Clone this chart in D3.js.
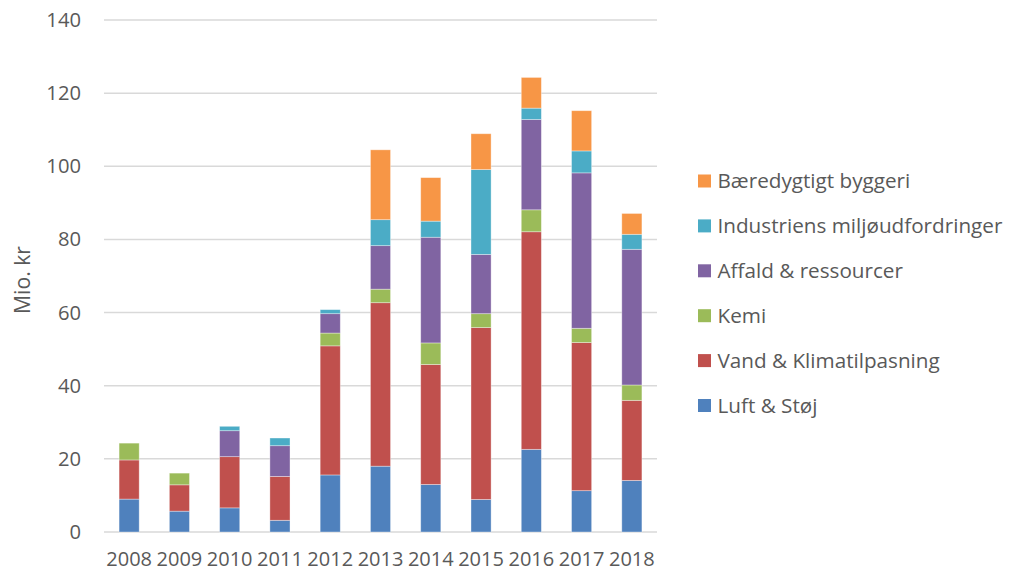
<!DOCTYPE html>
<html>
<head>
<meta charset="utf-8">
<script src="https://cdn.jsdelivr.net/npm/d3@7"></script>
<style>
  html, body { margin: 0; padding: 0; background: #fff; }
  svg { display: block; }
</style>
</head>
<body>
<svg id="chart" width="1009" height="572"></svg>
<script>
const years = ["2008","2009","2010","2011","2012","2013","2014","2015","2016","2017","2018"];
const seriesNames = ["Luft & Støj","Vand & Klimatilpasning","Kemi","Affald & ressourcer","Industriens miljøudfordringer","Bæredygtigt byggeri"];
const luftStoej      = [9.0, 5.7, 6.6, 3.2, 15.6, 18.0, 13.0, 8.9, 22.6, 11.3, 14.1];
const vandKlima      = [10.7, 7.2, 14.0, 12.0, 35.3, 44.7, 32.8, 47.0, 59.5, 40.5, 21.9];
const kemi           = [4.6, 3.2, 0, 0, 3.5, 3.7, 5.9, 3.8, 6.0, 3.9, 4.2];
const affald         = [0, 0, 7.1, 8.4, 5.3, 11.9, 28.9, 16.2, 24.7, 42.5, 37.1];
const industri       = [0, 0, 1.2, 2.1, 1.1, 7.1, 4.4, 23.2, 3.1, 6.0, 4.1];
const byggeri        = [0, 0, 0, 0, 0, 19.1, 11.9, 9.8, 8.4, 11.0, 5.7];
const yTicks = [0, 20, 40, 60, 80, 100, 120, 140];
const colors = ["#4F81BD","#C0504D","#9BBB59","#8064A2","#4BACC6","#F79646"];

const seriesValues = [luftStoej, vandKlima, kemi, affald, industri, byggeri];
const table = years.map((y, i) => {
  const row = { year: y };
  seriesNames.forEach((s, k) => row[s] = seriesValues[k][i]);
  return row;
});

const svg = d3.select("#chart");
const font = "'Open Sans', 'Noto Sans', sans-serif";
const textColor = "#595959";

// size a text element so its rendered width equals target
function fitWidth(sel, target) {
  const node = sel.node();
  const base = 20;
  sel.attr("font-size", base);
  const w = node.getComputedTextLength();
  sel.attr("font-size", base * target / w);
}

const x = d3.scaleBand().domain(years).range([104, 657]).paddingInner(0.6).paddingOuter(0.3);
const y = d3.scaleLinear().domain([0, 140]).range([532, 20]);

// gridlines
svg.append("g").selectAll("line").data(yTicks).join("line")
  .attr("x1", 104).attr("x2", 657)
  .attr("y1", d => y(d)).attr("y2", d => y(d))
  .attr("stroke", "#d9d9d9").attr("stroke-width", 1.5);

// y axis labels
const yAxis = d3.axisLeft(y).tickValues(yTicks).tickSize(0).tickPadding(0);
const gy = svg.append("g").attr("transform", "translate(81,0)").call(yAxis);
gy.select(".domain").remove();
gy.selectAll("text").attr("font-family", font).attr("font-size", 20.2).attr("fill", textColor);

// x axis labels
const xAxis = d3.axisBottom(x).tickSize(0).tickPadding(0);
const gx = svg.append("g").attr("transform", "translate(0,566)").call(xAxis);
gx.select(".domain").remove();
gx.selectAll("text").attr("font-family", font).attr("font-size", 20).attr("fill", textColor)
  .attr("dy", "0").attr("y", 0);

// stacked bars
const stack = d3.stack().keys(seriesNames);
const stacked = stack(table);
svg.append("g").selectAll("g").data(stacked).join("g")
  .attr("fill", (d, i) => colors[i])
  .selectAll("rect").data(d => d.filter(p => p[1] - p[0] > 0)).join("rect")
  .attr("x", d => x(d.data.year))
  .attr("width", x.bandwidth())
  .attr("y", d => y(d[1]))
  .attr("height", d => y(d[0]) - y(d[1]))
  .attr("stroke", "#ffffff").attr("stroke-opacity", 0.45).attr("stroke-width", 0.8);

// y title
const title = svg.append("text")
  .attr("transform", "translate(29.5,280) rotate(-90)")
  .attr("text-anchor", "middle")
  .attr("font-family", font).attr("fill", textColor)
  .text("Mio. kr");
fitWidth(title, 68);

// legend
const legendOrder = [5, 4, 3, 2, 1, 0];
const legend = svg.append("g");
const leg = legend.selectAll("g").data(legendOrder).join("g")
  .attr("transform", (d, i) => `translate(698,${181 + i * 44.9})`);
leg.append("rect").attr("x", 0).attr("y", -6.5).attr("width", 13).attr("height", 13)
  .attr("fill", d => colors[d]);
const legText = leg.append("text").attr("x", 19.5).attr("y", 0).attr("dy", "0.36em")
  .attr("font-family", font).attr("font-size", 20).attr("fill", textColor)
  .text(d => seriesNames[d]);
// scale legend font so the longest label spans the same width as the reference
const longest = legText.filter(d => d === 4);
fitWidth(longest, 285);
legText.attr("font-size", longest.attr("font-size"));
</script>
</body>
</html>
